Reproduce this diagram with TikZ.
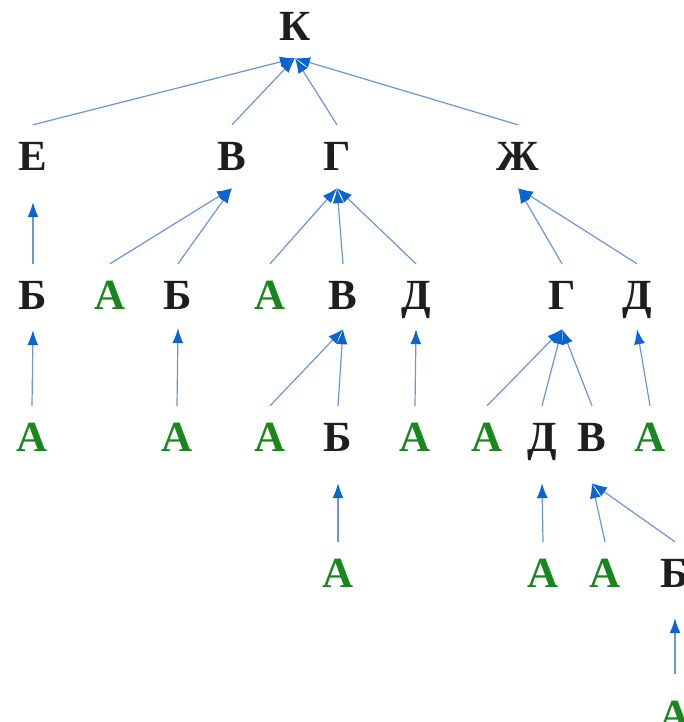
\documentclass[tikz,border=0pt]{standalone}
\usepackage{fontspec}
\setmainfont{Liberation Serif}
\usetikzlibrary{arrows.meta}
\definecolor{lineblue}{RGB}{105,150,215}
\definecolor{tipblue}{RGB}{10,100,210}
\definecolor{lettergreen}{RGB}{25,135,30}
\definecolor{letterblack}{RGB}{30,30,30}
\tikzset{
  lt/.style={inner sep=0pt, text height=28pt, text depth=0pt, anchor=center,
    font=\fontsize{43}{43}\selectfont\bfseries, text=letterblack},
  ga/.style={lt, text=lettergreen},
  arr/.style={draw=lineblue, line width=1.2pt,
    -{Latex[length=15pt,width=11pt,color=tipblue]}}
}
\newcommand{\treeedge}[4]{\draw[arr] ([yshift=#3]#1.north) -- ([yshift=-#4]#2.south);}
\begin{document}
\begin{tikzpicture}[x=1pt,y=1pt]
\useasboundingbox (0,0) rectangle (684,722);
% row 0
\node[lt] (K) at (295,695) {К};
% row 1
\node[lt] (E1) at (33,565) {Е};
\node[lt] (V1) at (232,565) {В};
\node[lt] (G1) at (337,565) {Г};
\node[lt] (Zh) at (518,565) {Ж};
% row 2
\node[lt] (B2a) at (33,426) {Б};
\node[ga] (A2a) at (110,426) {А};
\node[lt] (B2b) at (178,426) {Б};
\node[ga] (A2b) at (270,426) {А};
\node[lt] (V2) at (343,426) {В};
\node[lt] (D2a) at (416,426) {Д};
\node[lt] (G2) at (562,426) {Г};
\node[lt] (D2b) at (637,426) {Д};
% row 3
\node[ga] (A3a) at (32,284) {А};
\node[ga] (A3b) at (177,284) {А};
\node[ga] (A3c) at (270,284) {А};
\node[lt] (B3) at (338,284) {Б};
\node[ga] (A3d) at (415,284) {А};
\node[ga] (A3e) at (487,284) {А};
\node[lt] (D3) at (542,284) {Д};
\node[lt] (V3) at (592,284) {В};
\node[ga] (A3f) at (650,284) {А};
% row 4
\node[ga] (A4a) at (338,148) {А};
\node[ga] (A4b) at (543,148) {А};
\node[ga] (A4c) at (605,148) {А};
\node[lt] (B4) at (675,148) {Б};
% row 5
\node[ga] (A5) at (675,6) {А};
% edges
\treeedge{E1}{K}{18pt}{17pt}
\treeedge{V1}{K}{18pt}{17pt}
\treeedge{G1}{K}{18pt}{17pt}
\treeedge{Zh}{K}{18pt}{17pt}
\treeedge{B2a}{E1}{18pt}{31pt}
\treeedge{A2a}{V1}{18pt}{17pt}
\treeedge{B2b}{V1}{18pt}{17pt}
\treeedge{A2b}{G1}{18pt}{17pt}
\treeedge{V2}{G1}{18pt}{17pt}
\treeedge{D2a}{G1}{18pt}{17pt}
\treeedge{G2}{Zh}{18pt}{17pt}
\treeedge{D2b}{Zh}{18pt}{17pt}
\treeedge{A3a}{B2a}{18pt}{20pt}
\treeedge{A3b}{B2b}{18pt}{18pt}
\treeedge{A3c}{V2}{18pt}{19pt}
\treeedge{B3}{V2}{18pt}{19pt}
\treeedge{A3d}{D2a}{18pt}{19pt}
\treeedge{A3e}{G2}{18pt}{19pt}
\treeedge{D3}{G2}{18pt}{19pt}
\treeedge{V3}{G2}{18pt}{19pt}
\treeedge{A3f}{D2b}{18pt}{19pt}
\treeedge{A4a}{B3}{18pt}{31pt}
\treeedge{A4b}{D3}{18pt}{31pt}
\treeedge{A4c}{V3}{18pt}{31pt}
\treeedge{B4}{V3}{18pt}{31pt}
\treeedge{A5}{B4}{28pt}{30pt}
\end{tikzpicture}
\end{document}
